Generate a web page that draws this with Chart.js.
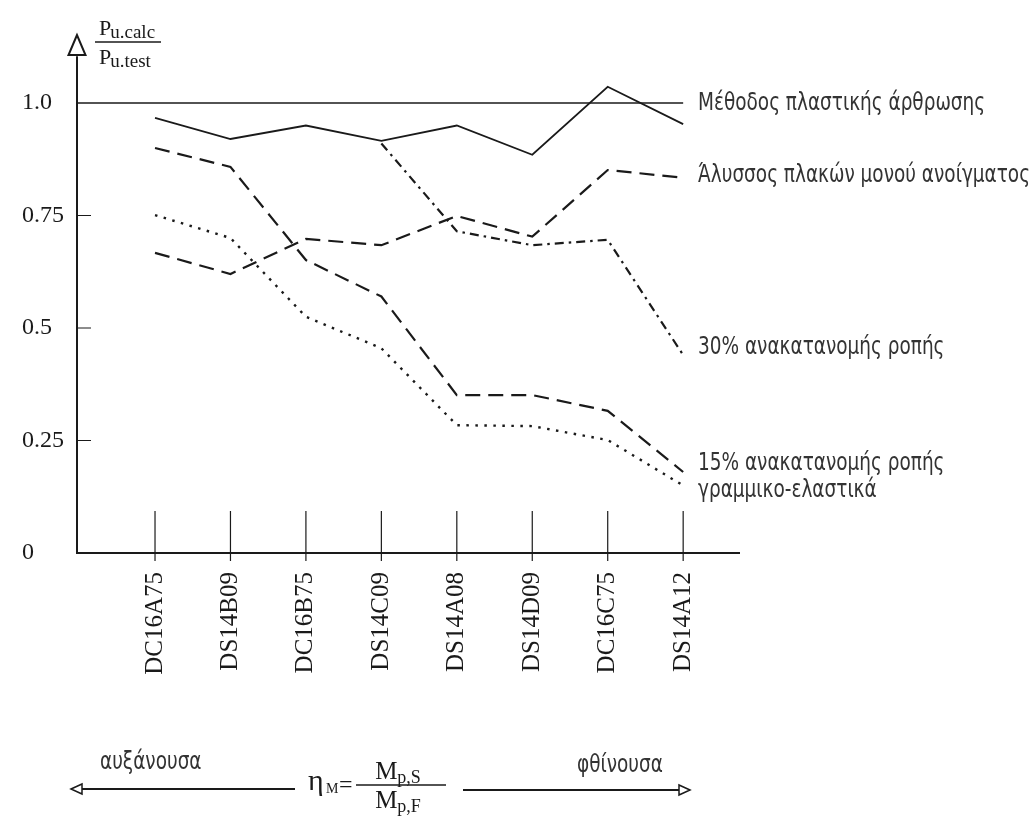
<!DOCTYPE html>
<html>
<head>
<meta charset="utf-8">
<script src="https://cdn.jsdelivr.net/npm/chart.js@4.4.1/dist/chart.umd.min.js"></script>
<style>
  html, body { margin: 0; padding: 0; background: #fff; }
  #wrap { width: 1034px; height: 819px; position: relative; }
</style>
</head>
<body>
<div id="wrap"><canvas id="ratioChart"></canvas></div>
<script>
// specimens, ordered by eta_M (increasing -> decreasing)
const categories = ['DC16A75', 'DS14B09', 'DC16B75', 'DS14C09', 'DS14A08', 'DS14D09', 'DC16C75', 'DS14A12'];

// P_u.calc / P_u.test for each method
const plasticHinge = [0.967, 0.92, 0.95, 0.916, 0.95, 0.885, 1.036, 0.953];
const slabChain = [0.667, 0.62, 0.698, 0.684, 0.749, 0.703, 0.851, 0.834];
const redist30 = [null, null, null, 0.91, 0.715, 0.684, 0.696, 0.44];
const redist15 = [0.90, 0.858, 0.651, 0.57, 0.351, 0.351, 0.316, 0.18];
const linearElastic = [0.751, 0.70, 0.525, 0.455, 0.284, 0.282, 0.251, 0.15];

const yTickValues = [0, 0.25, 0.5, 0.75, 1.0];
const yTickLabels = ['0', '0.25', '0.5', '0.75', '1.0'];
const refValue = 1.0;

const seriesNames = [
  'Μέθοδος πλαστικής άρθρωσης',
  'Άλυσσος πλακών μονού ανοίγματος',
  '30% ανακατανομής ροπής',
  '15% ανακατανομής ροπής',
  'γραμμικο-ελαστικά'
];

const SERIF = '"Liberation Serif", "Times New Roman", serif';
const NARROW = '"Liberation Sans Narrow", "DejaVu Sans Condensed", sans-serif';
const INK = '#1a1a1a';

const X_MIN = -1.034, X_MAX = 7.74;

function pts(arr) {
  return arr.map((v, i) => ({ x: i, y: v }));
}

// axis arrow, fraction label, tick marks, line labels, eta_M annotation
const decor = {
  id: 'decor',
  afterDraw(chart) {
    const { ctx, chartArea: ca, scales: { x, y } } = chart;
    ctx.save();
    ctx.strokeStyle = INK;
    ctx.fillStyle = INK;
    ctx.lineWidth = 1.5;

    // y axis extension + open arrowhead
    const ax = ca.left;
    ctx.beginPath();
    ctx.moveTo(ax, ca.top);
    ctx.lineTo(ax, 55);
    ctx.stroke();
    ctx.beginPath();
    ctx.moveTo(ax, 35);
    ctx.lineTo(ax - 8.5, 55);
    ctx.lineTo(ax + 8.5, 55);
    ctx.closePath();
    ctx.fillStyle = '#fff';
    ctx.fill();
    ctx.lineWidth = 2;
    ctx.stroke();
    ctx.fillStyle = INK;

    // P_u.calc / P_u.test
    ctx.textBaseline = 'alphabetic';
    ctx.textAlign = 'left';
    ctx.font = '22px ' + SERIF;
    ctx.fillText('P', 99, 35);
    ctx.fillText('P', 99, 64);
    const pw = ctx.measureText('P').width;
    ctx.font = '19px ' + SERIF;
    ctx.fillText('u.calc', 98 + pw, 38);
    ctx.fillText('u.test', 98 + pw, 67);
    ctx.lineWidth = 1.3;
    ctx.beginPath();
    ctx.moveTo(95, 42);
    ctx.lineTo(161, 42);
    ctx.stroke();

    // short inner ticks on y axis
    ctx.lineWidth = 1;
    yTickValues.forEach(v => {
      if (v === 0 || v === refValue) return;
      const py = y.getPixelForValue(v);
      ctx.beginPath();
      ctx.moveTo(ax, py);
      ctx.lineTo(ax + 14, py);
      ctx.stroke();
    });

    // category marks across the x axis
    ctx.lineWidth = 1.2;
    categories.forEach((c, i) => {
      const px = x.getPixelForValue(i);
      ctx.beginPath();
      ctx.moveTo(px, ca.bottom - 42);
      ctx.lineTo(px, ca.bottom + 8);
      ctx.stroke();
    });

    // condensed text: squeeze horizontally to match the narrow face
    ctx.font = '24px ' + NARROW;
    const squeeze = Math.min(295 / ctx.measureText(seriesNames[0]).width,
                             332 / ctx.measureText(seriesNames[1]).width);
    function narrowText(t, tx, ty) {
      ctx.save();
      ctx.scale(squeeze, 1);
      ctx.fillText(t, tx / squeeze, ty);
      ctx.restore();
    }

    ctx.fillStyle = '#333';
    ctx.textBaseline = 'middle';
    const lx = 698;
    narrowText(seriesNames[0], lx, 104);
    narrowText(seriesNames[1], lx, 176);
    narrowText(seriesNames[2], lx, 348);
    narrowText(seriesNames[3], lx, 464);
    narrowText(seriesNames[4], lx, 491);

    // bottom annotation: increasing <- eta_M -> decreasing
    narrowText('αυξάνουσα', 100, 763);
    narrowText('φθίνουσα', 577, 766);
    ctx.fillStyle = INK;
    ctx.lineWidth = 2;
    ctx.beginPath();
    ctx.moveTo(80, 789);
    ctx.lineTo(295, 789);
    ctx.moveTo(463, 790);
    ctx.lineTo(680, 790);
    ctx.stroke();
    ctx.lineWidth = 1.5;
    ctx.beginPath();
    ctx.moveTo(71, 789);
    ctx.lineTo(82, 784);
    ctx.lineTo(82, 794);
    ctx.closePath();
    ctx.moveTo(690, 790);
    ctx.lineTo(679, 785);
    ctx.lineTo(679, 795);
    ctx.closePath();
    ctx.fillStyle = '#fff';
    ctx.fill();
    ctx.stroke();
    ctx.fillStyle = INK;

    ctx.textBaseline = 'alphabetic';
    ctx.font = '30px ' + SERIF;
    ctx.fillText('η', 308, 790);
    ctx.font = '14px ' + SERIF;
    ctx.fillText('M', 326, 793);
    ctx.font = '24px ' + SERIF;
    ctx.fillText('=', 339, 792);
    // fraction M_p,S / M_p,F
    const fx0 = 356, fx1 = 446, fy = 785;
    ctx.lineWidth = 1.3;
    ctx.beginPath();
    ctx.moveTo(fx0, fy);
    ctx.lineTo(fx1, fy);
    ctx.stroke();
    function mSub(sub, base) {
      ctx.font = '25px ' + SERIF;
      const mw = ctx.measureText('M').width;
      ctx.font = '18px ' + SERIF;
      const sw = ctx.measureText(sub).width;
      const start = (fx0 + fx1) / 2 - (mw + sw) / 2 - 3;
      ctx.font = '25px ' + SERIF;
      ctx.fillText('M', start, base);
      ctx.font = '18px ' + SERIF;
      ctx.fillText(sub, start + mw, base + 4);
    }
    mSub('p,S', 779);
    mSub('p,F', 808);

    ctx.restore();
  }
};

const lineBase = {
  borderColor: INK,
  backgroundColor: INK,
  pointRadius: 0,
  pointHoverRadius: 0,
  tension: 0,
  fill: false,
  spanGaps: false
};

new Chart(document.getElementById('ratioChart'), {
  type: 'line',
  data: {
    datasets: [
      { ...lineBase, label: 'ref', data: [{ x: X_MIN, y: refValue }, { x: categories.length - 1, y: refValue }], borderWidth: 1.5 },
      { ...lineBase, label: seriesNames[0], data: pts(plasticHinge), borderWidth: 1.8 },
      { ...lineBase, label: seriesNames[1], data: pts(slabChain), borderWidth: 2.2, borderDash: [15, 8] },
      { ...lineBase, label: seriesNames[2], data: pts(redist30), borderWidth: 2.2, borderDash: [9, 5, 2.5, 5] },
      { ...lineBase, label: seriesNames[3], data: pts(redist15), borderWidth: 2.2, borderDash: [15, 8] },
      { ...lineBase, label: seriesNames[4], data: pts(linearElastic), borderWidth: 2.4, borderDash: [2.5, 6.5] }
    ]
  },
  options: {
    responsive: true,
    maintainAspectRatio: false,
    animation: false,
    layout: { padding: { left: 22, top: 58, right: 295, bottom: 0 } },
    plugins: {
      legend: { display: false },
      tooltip: { enabled: false }
    },
    scales: {
      x: {
        type: 'linear',
        min: X_MIN,
        max: X_MAX,
        afterBuildTicks: s => { s.ticks = categories.map((c, i) => ({ value: i })); },
        afterFit: s => { s.height = 266; },
        grid: { display: false, drawTicks: false },
        border: { display: true, color: INK, width: 2 },
        ticks: {
          autoSkip: false,
          minRotation: 90,
          maxRotation: 90,
          padding: 19,
          color: INK,
          font: { family: SERIF, size: 25 },
          callback: v => categories[v] ?? ''
        }
      },
      y: {
        min: 0,
        max: 1.1,
        afterBuildTicks: s => { s.ticks = yTickValues.map(v => ({ value: v })); },
        afterFit: s => { s.width = 55; },
        grid: { display: false, drawTicks: false },
        border: { display: true, color: INK, width: 2 },
        ticks: {
          crossAlign: 'far',
          color: INK,
          font: { family: SERIF, size: 24 },
          callback: v => yTickLabels[yTickValues.indexOf(v)]
        }
      }
    }
  },
  plugins: [decor]
});
</script>
</body>
</html>
